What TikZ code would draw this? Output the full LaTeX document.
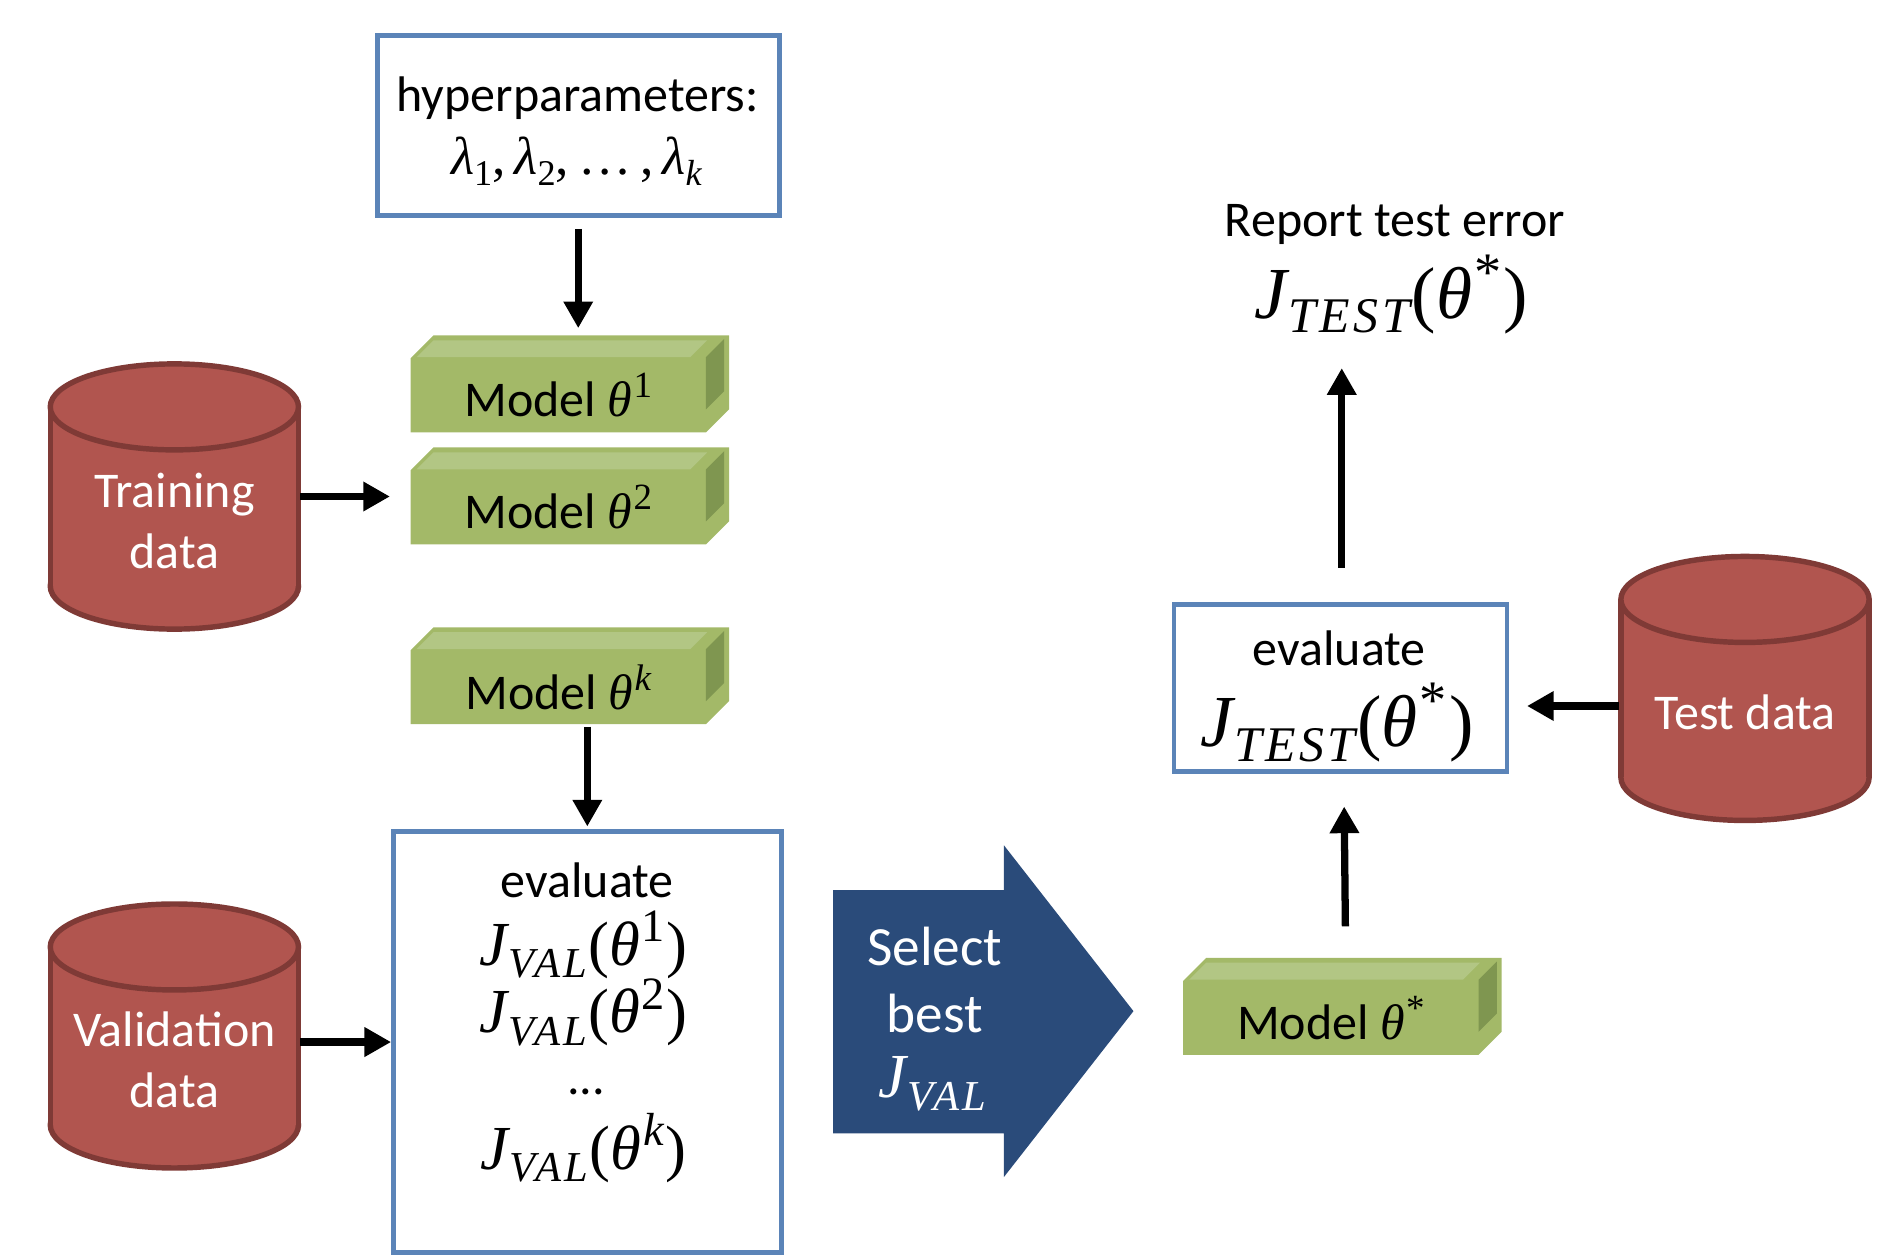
\documentclass[tikz,border=0pt]{standalone}
\usepackage{fontspec}
\usepackage{graphicx}
\setmainfont{Carlito}
\newfontfamily\mathf{Liberation Serif}
\newfontfamily\mathfs{Liberation Serif}[LetterSpace=7]
\usetikzlibrary{arrows.meta}
\newdimen\uu \uu=0.9082pt
\definecolor{boxblue}{HTML}{5B84B8}
\definecolor{cylfill}{HTML}{B1554F}
\definecolor{cylline}{HTML}{7F3A36}
\definecolor{mfront}{HTML}{A3B968}
\definecolor{mtop}{HTML}{B2C684}
\definecolor{mside}{HTML}{7F9650}
\definecolor{selblue}{HTML}{2A4B7A}
\newcommand\ftext{\fontsize{37.5}{45.4}\selectfont}
\newcommand\fmath{\fontsize{47}{52}\selectfont}
\newcommand\fmathb{\fontsize{55}{60}\selectfont}
\newcommand\mvar[1]{{\mathf\itshape #1}}
\newcommand\subs[1]{\raisebox{-.2em}{\scalebox{.68}{\mathfs\itshape #1}}}
\newcommand\supr[1]{\raisebox{.38em}{\scalebox{.74}{\mathf #1}}}
\newcommand\Jf[2]{\mvar{J}\kern.02em\subs{#1}\kern.02em{\mathf(}\mvar{θ}\kern.03em\supr{#2}\kern.03em{\mathf)}}
\tikzset{
  plainbox/.style={draw=boxblue,line width=4\uu,fill=white,inner sep=0pt,outer sep=0pt},
  arr/.style={line width=6\uu,-{Triangle[length=20pt,width=21pt]}},
  txt/.style={inner sep=0pt,outer sep=0pt,align=center,font=\ftext},
  mth/.style={inner sep=0pt,outer sep=0pt,align=center,font=\fmath},
  modelface/.style={inner sep=0pt,outer sep=0pt,minimum width=244\uu,minimum height=61\uu,font=\ftext},
  cylbox/.style={inner sep=0pt,outer sep=0pt,minimum width=208\uu,minimum height=221\uu},
}
% name, cx, top-ellipse cy, bottom-ellipse cy
\newcommand\cyl[4]{%
  \draw[cylline,line width=4.5\uu,fill=cylfill] (#2,#4) ellipse [x radius=102.5\uu,y radius=35.5\uu];
  \fill[cylfill] (#2-102.5,#3) rectangle (#2+102.5,#4);
  \draw[cylline,line width=4.5\uu] (#2-102.5,#3) -- (#2-102.5,#4) (#2+102.5,#3) -- (#2+102.5,#4);
  \draw[cylline,line width=4.5\uu,fill=cylfill] (#2,#3) ellipse [x radius=102.5\uu,y radius=35.5\uu];
  \node[cylbox] (#1) at (#2,{(#3+#4)/2}) {};
}
% name, front centre x, front centre y, text
\newcommand\model[4]{%
  \fill[mfront] (#2-122,#3-30.5) -- ++(19,-19) -- ++(244,0) -- ++(0,61) -- (#2+122,#3+30.5) -- (#2-122,#3+30.5) -- cycle;
  \fill[mtop] (#2-117,#3-31.5) -- ++(14,-14) -- ++(226,0) -- ++(-14,14) -- cycle;
  \fill[mside] (#2+122,#3-31.5) -- ++(15,-15) -- ++(0,43) -- ++(-15,15) -- cycle;
  \node[modelface] (#1) at (#2,#3) {\raisebox{-5\uu}{#4}};
}
\begin{document}
\begin{tikzpicture}[x=\uu,y=-\uu]
\useasboundingbox (0,0) rectangle (1569,1037);
% hyperparameters
\node[plainbox,minimum width=332\uu,minimum height=149\uu] (h) at (477.5,103.5) {};
\node[txt] (ht) at (477,81) {hyperparameters:};
\node[mth,font=\fontsize{40}{46}\selectfont] (hl) at (476,133) {\mvar{λ}\subs{\upshape 1}{\mathf ,}\,\mvar{λ}\subs{\upshape 2}{\mathf ,}\,{\mathf …}\,{\mathf ,}\,\mvar{λ}\subs{k}};
% cylinders
\cyl{train}{144}{336}{484}
\node[txt,text=white] (traint) at (144,430) {Training\\data};
\cyl{val}{144}{782}{929}
\node[txt,text=white] (valt) at (144,875) {Validation\\data};
\cyl{test}{1441}{495}{642}
\node[txt,text=white] (testt) at (1441,588) {Test data};
% models
\model{m1}{461}{326.5}{Model \mvar{θ}\kern.03em\supr{1}}
\model{m2}{461}{419}{Model \mvar{θ}\kern.03em\supr{2}}
\model{mk}{461}{567.5}{Model \mvar{θ}\kern.03em\supr{\itshape k}}
\model{ms}{1099}{840.5}{Model \mvar{θ}\kern.03em\supr{*}}
% evaluation box
\node[plainbox,minimum width=320\uu,minimum height=348\uu] (e) at (485,860.5) {};
\node[txt] (et) at (485,727) {evaluate};
\node[mth] (e1) at (482,780) {\Jf{VAL}{1}};
\node[mth] (e2) at (482,836) {\Jf{VAL}{2}};
\node[txt] (e3) at (484,902) {...};
\node[mth] (e4) at (482,948) {\Jf{VAL}{\itshape k}};
% select arrow
\fill[selblue] (688,735) -- (829,735) -- (829,698) -- (936,835) -- (829,972) -- (829,936) -- (688,936) -- cycle;
\node[txt,text=white,font=\fontsize{41.5}{50}\selectfont] (sel) at (772,809.5) {Select\\best};
\node[mth,text=white] (selj) at (770,895) {\mvar{J}\kern.02em\subs{VAL}};
% right box
\node[plainbox,minimum width=275\uu,minimum height=138\uu] (r) at (1107,568) {};
\node[txt] (rt) at (1106,535) {evaluate};
\node[mth,font=\fmathb] (rj) at (1104,597) {\Jf{TEST}{*}};
% report
\node[txt] (rep) at (1152,185) {Report test error};
\node[mth,font=\fmathb] (repj) at (1149,243) {\Jf{TEST}{*}};
% connectors
\coordinate (msa) at (1111,765);
\coordinate (msb) at (1110,666);
\coordinate (repa) at (1108,469);
\coordinate (repb) at (1108,304);
\coordinate (testa) at (1337,583);
\coordinate (testb) at (1261,583);
\draw[arr,shorten >=25\uu] ([yshift=-11\uu]h.south) -- (h.south |- m1.north);
\draw[arr] (train.east) -- ([xshift=-17\uu]train.east -| m2.west);
\draw[arr] ([yshift=-2\uu]e.north |- mk.south) -- ([yshift=4\uu]e.north);
\draw[arr] (val.east |- e.west) -- ([xshift=-2\uu]e.west);
\draw[arr] (msa) -- (msb);
\draw[arr] (repa) -- (repb);
\draw[arr] (testa) -- (testb);
\end{tikzpicture}
\end{document}
